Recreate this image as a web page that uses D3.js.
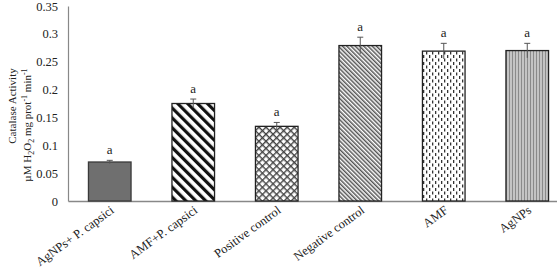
<!DOCTYPE html>
<html>
<head>
<meta charset="utf-8">
<script src="https://cdn.jsdelivr.net/npm/d3@7"></script>
<style>
  body { margin: 0; background: #fff; }
  text { font-family: "Liberation Serif", "Times New Roman", serif; fill: #222; }
</style>
</head>
<body>
<div id="chart"></div>
<script>
// data
const categories = ["AgNPs+ P. capsici", "AMF+P. capsici", "Positive control", "Negative control", "AMF", "AgNPs"];
const values = [0.070, 0.175, 0.134, 0.279, 0.269, 0.270];
const errors = [0.003, 0.008, 0.007, 0.015, 0.014, 0.013];
const letters = ["a", "a", "a", "a", "a", "a"];
const yTicks = [0, 0.05, 0.1, 0.15, 0.2, 0.25, 0.3, 0.35];
const patterns = ["solid", "wide", "cross", "fine", "dots", "vert"];
const labelAngle = -36;

const W = 557, H = 274;
const margin = {top: 6, right: 0, bottom: 73, left: 68};
const width = W - margin.left - margin.right,
      height = H - margin.top - margin.bottom;

const svg = d3.select("#chart")
  .append("svg")
  .attr("width", W)
  .attr("height", H);

// hatch patterns
const defs = svg.append("defs");

defs.append("pattern").attr("id", "p-solid")
  .attr("patternUnits", "userSpaceOnUse").attr("width", 4).attr("height", 4)
  .call(p => {
    p.append("rect").attr("width", 4).attr("height", 4).attr("fill", "#6f6f6f");
  });

defs.append("pattern").attr("id", "p-wide")
  .attr("patternUnits", "userSpaceOnUse").attr("width", 7).attr("height", 7)
  .attr("patternTransform", "rotate(-45)")
  .call(p => {
    p.append("rect").attr("width", 7).attr("height", 7).attr("fill", "#fff");
    p.append("rect").attr("width", 3.2).attr("height", 7).attr("fill", "#111");
  });

defs.append("pattern").attr("id", "p-cross")
  .attr("patternUnits", "userSpaceOnUse").attr("width", 5).attr("height", 5)
  .attr("patternTransform", "rotate(45)")
  .call(p => {
    p.append("rect").attr("width", 5).attr("height", 5).attr("fill", "#fff");
    p.append("rect").attr("width", 1.4).attr("height", 5).attr("fill", "#444");
    p.append("rect").attr("width", 5).attr("height", 1.4).attr("fill", "#444");
  });

defs.append("pattern").attr("id", "p-fine")
  .attr("patternUnits", "userSpaceOnUse").attr("width", 3).attr("height", 3)
  .attr("patternTransform", "rotate(-45)")
  .call(p => {
    p.append("rect").attr("width", 3).attr("height", 3).attr("fill", "#fff");
    p.append("rect").attr("width", 1.5).attr("height", 3).attr("fill", "#555");
  });

defs.append("pattern").attr("id", "p-dots")
  .attr("patternUnits", "userSpaceOnUse").attr("width", 6).attr("height", 7)
  .call(p => {
    p.append("rect").attr("width", 6).attr("height", 7).attr("fill", "#fff");
    p.append("rect").attr("x", 1).attr("y", 0).attr("width", 1.3).attr("height", 3).attr("fill", "#333");
    p.append("rect").attr("x", 4).attr("y", 3.5).attr("width", 1.3).attr("height", 3).attr("fill", "#333");
  });

defs.append("pattern").attr("id", "p-vert")
  .attr("patternUnits", "userSpaceOnUse").attr("width", 3).attr("height", 3)
  .call(p => {
    p.append("rect").attr("width", 3).attr("height", 3).attr("fill", "#c4c4c4");
    p.append("rect").attr("width", 1).attr("height", 3).attr("fill", "#8a8a8a");
  });

const g = svg.append("g")
  .attr("transform", `translate(${margin.left}, ${margin.top})`);

// scales
const x = d3.scaleBand()
  .domain(categories)
  .range([0, 83.5 * 6])
  .paddingInner(0.49)
  .paddingOuter(0.245);

const y = d3.scaleLinear()
  .domain([0, 0.35])
  .range([height, 0]);

// y axis
const yAxis = g.append("g")
  .call(d3.axisLeft(y).tickValues(yTicks).tickSize(0).tickPadding(10)
    .tickFormat(d => d === 0 ? "0" : String(+d.toFixed(2))));
yAxis.select(".domain").attr("stroke", "#888").attr("stroke-width", 1.2);
yAxis.selectAll("text")
  .style("font-family", "Liberation Serif, serif")
  .style("font-size", "12.5px")
  .attr("fill", "#222");

// x axis (line only, labels drawn below)
const xAxis = g.append("g")
  .attr("transform", `translate(0, ${height})`)
  .call(d3.axisBottom(x).tickSize(0).tickSizeOuter(0).tickFormat(""));
xAxis.select(".domain").attr("stroke", "#888").attr("stroke-width", 1.4);

// rotated category labels
g.selectAll(".xlab")
  .data(categories)
  .join("text")
    .attr("class", "xlab")
    .attr("text-anchor", "end")
    .style("font-size", "12.5px")
    .attr("transform", d => "translate(" + (x(d) + x.bandwidth() / 2 + 5) + "," + (height + 11) + ") rotate(" + labelAngle + ")")
    .text(d => d);

// bars
g.selectAll(".bar")
  .data(categories)
  .join("rect")
    .attr("class", "bar")
    .attr("x", d => x(d))
    .attr("width", x.bandwidth())
    .attr("y", (d, i) => y(values[i]))
    .attr("height", (d, i) => height - y(values[i]))
    .attr("fill", (d, i) => `url(#p-${patterns[i]})`)
    .attr("stroke", (d, i) => i === 0 ? "#3a3a3a" : "#222")
    .attr("stroke-width", 1.3);

// error bars
const eb = g.selectAll(".err")
  .data(categories)
  .join("g")
    .attr("class", "err")
    .attr("stroke", "#555")
    .attr("stroke-width", 1);
eb.append("line")
  .attr("x1", d => x(d) + x.bandwidth() / 2)
  .attr("x2", d => x(d) + x.bandwidth() / 2)
  .attr("y1", (d, i) => y(values[i] - errors[i]))
  .attr("y2", (d, i) => y(values[i] + errors[i]));
eb.append("line")
  .attr("x1", d => x(d) + x.bandwidth() / 2 - 3)
  .attr("x2", d => x(d) + x.bandwidth() / 2 + 3)
  .attr("y1", (d, i) => y(values[i] + errors[i]))
  .attr("y2", (d, i) => y(values[i] + errors[i]));

// significance letters
g.selectAll(".letter")
  .data(categories)
  .join("text")
    .attr("class", "letter")
    .attr("x", d => x(d) + x.bandwidth() / 2)
    .attr("y", (d, i) => y(values[i] + errors[i]) - 6)
    .attr("text-anchor", "middle")
    .style("font-size", "13px")
    .text((d, i) => letters[i]);

// y axis title (two lines)
const title = svg.append("g");
title.append("text")
  .attr("transform", "translate(16, 106) rotate(-90)")
  .attr("text-anchor", "middle")
  .style("font-size", "11px")
  .text("Catalase Activity");

const t2 = title.append("text")
  .attr("transform", "translate(31, 125) rotate(-90)")
  .attr("text-anchor", "middle")
  .style("font-size", "11px");
t2.append("tspan").text("µM H");
t2.append("tspan").attr("dy", 3).style("font-size", "8px").text("2");
t2.append("tspan").attr("dy", -3).text("O");
t2.append("tspan").attr("dy", 3).style("font-size", "8px").text("2");
t2.append("tspan").attr("dy", -3).text(" mg prot");
t2.append("tspan").attr("dy", -4).style("font-size", "8px").text("-1");
t2.append("tspan").attr("dy", 4).text("  min");
t2.append("tspan").attr("dy", -4).style("font-size", "8px").text("-1");
</script>
</body>
</html>
